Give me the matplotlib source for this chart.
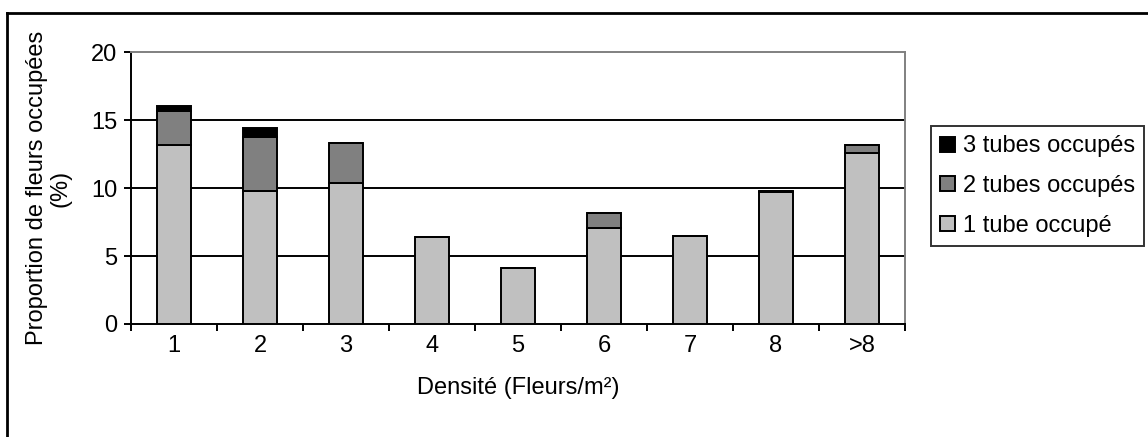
import matplotlib
matplotlib.use("Agg")
import matplotlib.pyplot as plt
from matplotlib.lines import Line2D
from matplotlib.patches import Patch
import numpy as np

plt.rcParams['font.family'] = ['Liberation Sans', 'DejaVu Sans']

categories = ['1', '2', '3', '4', '5', '6', '7', '8', '>8']
one_tube = [13.2, 9.8, 10.4, 6.4, 4.1, 7.1, 6.5, 9.75, 12.6]
two_tubes = [2.5, 3.95, 2.95, 0.0, 0.0, 1.1, 0.0, 0.05, 0.6]
three_tubes = [0.35, 0.65, 0.0, 0.0, 0.0, 0.0, 0.0, 0.0, 0.0]
series_labels = ['1 tube occupé', '2 tubes occupés', '3 tubes occupés']
series_colors = ['#C0C0C0', '#808080', '#000000']
y_ticks = [0, 5, 10, 15, 20]

FS = 17
W, H = 1148, 437
fig = plt.figure(figsize=(W / 100, H / 100), dpi=100)
ax = fig.add_axes([131 / W, 1 - 324 / H, (905 - 131) / W, (324 - 52.3) / H])

x = np.arange(len(categories))
bottom = np.zeros(len(categories))
handles = []
for vals, lab, col in zip([one_tube, two_tubes, three_tubes], series_labels, series_colors):
    v = np.array(vals)
    ax.bar(x, v, width=0.4, bottom=bottom, color=col, edgecolor='black',
           linewidth=1.4, zorder=3)
    bottom += v
    handles.append(Patch(facecolor=col, edgecolor='black', linewidth=1.4, label=lab))

ax.set_xlim(-0.5, len(categories) - 0.5)
ax.set_ylim(0, 20)

# grid lines at the inner y ticks
for yv in y_ticks[1:-1]:
    ax.axhline(yv, color='black', linewidth=1.4, zorder=1)

ax.set_yticks(y_ticks)
ax.tick_params(axis='y', direction='out', length=5, width=1.4, labelsize=FS, pad=5)

# ticks at category boundaries, labels at centres
ax.set_xticks(np.arange(-0.5, len(categories), 1.0))
ax.set_xticklabels([])
ax.tick_params(axis='x', which='major', direction='out', length=5, width=1.4)
ax.set_xticks(x, minor=True)
ax.set_xticklabels(categories, minor=True)
ax.tick_params(axis='x', which='minor', length=0, labelsize=FS, pad=8)

for side in ['left', 'bottom']:
    ax.spines[side].set_linewidth(1.4)
    ax.spines[side].set_color('black')
for side in ['top', 'right']:
    ax.spines[side].set_linewidth(1.4)
    ax.spines[side].set_color('#808080')

ax.set_xlabel('Densité (Fleurs/m²)', fontsize=FS, labelpad=14)
ax.set_ylabel('Proportion de fleurs occupées\n(%)', fontsize=FS, labelpad=14,
              linespacing=1.1)

leg = fig.legend(handles=handles[::-1], loc='upper left',
                 bbox_to_anchor=(931 / W, 1 - 126 / H), fontsize=FS,
                 frameon=True, fancybox=False, edgecolor='black',
                 handlelength=0.6, handleheight=0.6, handletextpad=0.35,
                 labelspacing=0.75, borderpad=0.4, borderaxespad=0)
leg.get_frame().set_linewidth(1.4)

# outer chart frame
fx, fy = 7 / W, 1 - 13 / H
fig.add_artist(Line2D([fx, fx], [0, fy], transform=fig.transFigure, color='black', linewidth=2))
fig.add_artist(Line2D([fx, 1], [fy, fy], transform=fig.transFigure, color='black', linewidth=2))

fig.savefig('out.png', dpi=100)
